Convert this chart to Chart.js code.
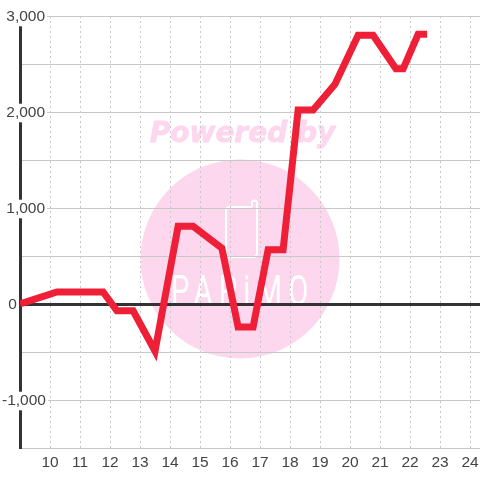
<!DOCTYPE html>
<html><head><meta charset="utf-8">
<style>html,body{margin:0;padding:0;background:#fff}canvas{display:block}</style>
<script src="https://cdn.jsdelivr.net/npm/chart.js@4"></script></head>
<body><canvas id="c" width="480" height="480"></canvas>
<script>
const hours = [9,10.23,11.77,12.23,12.77,13.5,14.27,14.77,15.73,16.27,16.77,17.27,17.77,18.27,18.77,19.5,20.27,20.77,21.53,21.77,22.27,22.57];
const values = [0,125,125,-70,-70,-490,810,810,580,-240,-240,565,565,2020,2020,2290,2800,2800,2450,2450,2810,2810];
const yMin = -1500, yMax = 3000, yStep = 500;
const xMin = 9, xMax = 24.333;
const poweredText = "Powered by", logoText = "PAPiMO";

const watermark = {id:'watermark', beforeDraw(chart){
  const c = chart.ctx; c.save();
  c.fillStyle='#fff'; c.fillRect(0,0,480,480);
  c.fillStyle='#fcd7ee';
  c.beginPath(); c.arc(240,259,99.5,0,Math.PI*2); c.fill();
  c.font='italic bold 28px "DejaVu Sans"'; c.textAlign='center'; c.textBaseline='middle';
  c.strokeStyle='#fcd7ee'; c.lineWidth=0.8; c.lineJoin='round';
  c.fillText(poweredText,242.5,135); c.strokeText(poweredText,242.5,135);
  c.strokeStyle='#fff'; c.lineWidth=2;
  c.beginPath(); c.moveTo(252,207); c.lineTo(230,207); c.quadraticCurveTo(226,207,226,211);
  c.lineTo(226,253); c.quadraticCurveTo(226,257,230,257); c.lineTo(253,257); c.quadraticCurveTo(257,257,257,253);
  c.lineTo(257,203); c.arc(254.5,203,2.5,0,Math.PI,true); c.lineTo(252,207); c.stroke();
  c.fillStyle='#fff'; c.font='400 43px "Roboto"'; c.textBaseline='alphabetic';
  c.letterSpacing='9px';
  c.translate(240,305); c.scale(0.68,1);
  c.fillText(logoText,4,0);
  c.restore();
}};

new Chart(document.getElementById('c'),{
  type:'line',
  data:{datasets:[{data:hours.map((h,i)=>({x:h,y:values[i]})),borderColor:'#ee1f36',borderWidth:7,pointRadius:0,tension:0,fill:false,borderCapStyle:'butt',borderJoinStyle:'miter'}]},
  plugins:[watermark],
  options:{responsive:false,animation:false,
    layout:{padding:{top:16,left:0,right:0,bottom:0},autoPadding:false},
    plugins:{legend:{display:false},tooltip:{enabled:false},title:{display:false}},
    scales:{
      x:{type:'linear',min:xMin,max:xMax,
        afterFit(s){s.height=32;s.paddingRight=0;s.paddingLeft=0;},
        border:{display:true,color:'#c8c8c8',width:1,dash:[2,3]},
        grid:{color:'#c8c8c8',lineWidth:1,drawTicks:false,tickLength:0},
        ticks:{stepSize:1,includeBounds:false,autoSkip:false,maxRotation:0,padding:5,color:'#444',font:{family:'"Liberation Sans"',size:15.5},
          callback:v=>v===9?'':String(v)}},
      y:{type:'linear',min:yMin,max:yMax,
        afterFit(s){s.width=20;s.paddingTop=0;s.paddingBottom=0;},
        border:{display:true,color:'#333',width:3},
        grid:{drawTicks:false,tickLength:0,
          color:c=>c.tick&&c.tick.value===0?'#333':'#c8c8c8',
          lineWidth:c=>c.tick&&c.tick.value===0?3:1},
        ticks:{stepSize:yStep,autoSkip:false,mirror:true,padding:-18,labelOffset:1,color:'#444',font:{family:'"Liberation Sans"',size:15.5},
          showLabelBackdrop:true,
          backdropPadding:{left:0,right:2,top:0,bottom:0},
          backdropColor:c=>(c.tick&&Math.abs(c.tick.value)%1000===0&&c.tick.value!==0)?'#fff':'rgba(0,0,0,0)',
          callback:v=>v===0?'\u2009\u20090':(v%1000!==0?'':(v<0?'':' ')+v.toLocaleString('en-US'))}}
    }}
});
</script></body></html>
